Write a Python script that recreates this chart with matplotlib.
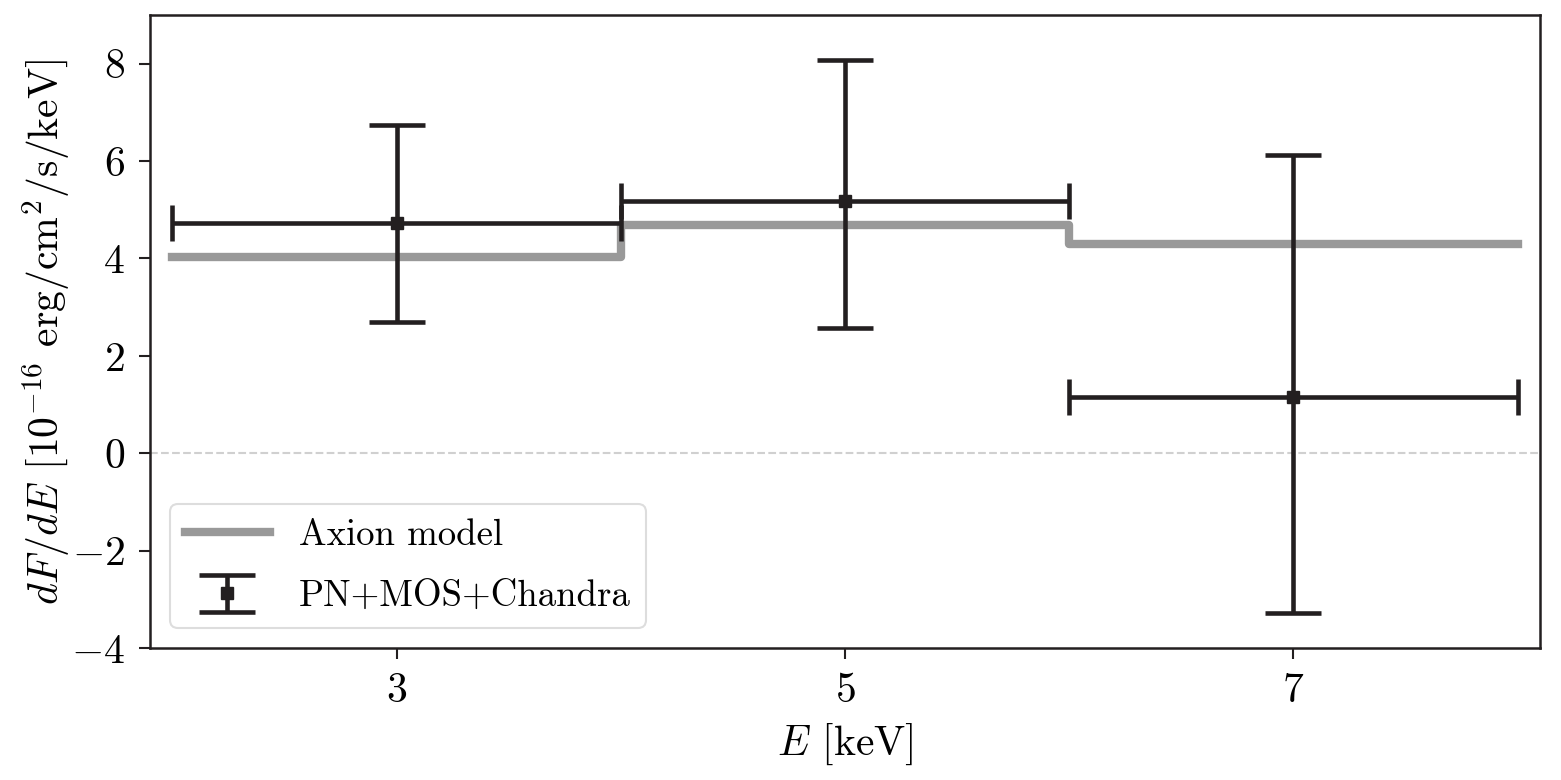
import numpy as np
import matplotlib
matplotlib.use("Agg")
import matplotlib.pyplot as plt

plt.rcParams['font.family'] = 'serif'
plt.rcParams['font.serif'] = ['cmr10']
plt.rcParams['mathtext.fontset'] = 'cm'
plt.rcParams['axes.formatter.use_mathtext'] = True

# binned data
bin_edges = [2, 4, 6, 8]
energy = [3, 5, 7]
energy_halfwidth = [1, 1, 1]
flux = [4.72, 5.19, 1.15]
flux_err_low = [2.02, 2.61, 4.44]
flux_err_high = [2.03, 2.89, 4.98]
model_flux = [4.03, 4.68, 4.29]

BLACK = '#231f20'
GRAY = '#999999'

fig = plt.figure(figsize=(15.61, 7.80), dpi=100)
ax = fig.add_axes([0.0961, 0.1692, 0.8905, 0.8116])

ax.axhline(0, color='#d0d0d0', ls='--', lw=1.5, zorder=0)

ax.step(bin_edges, model_flux + [model_flux[-1]], where='post',
        color=GRAY, lw=6, label='Axion model', zorder=1)

ax.errorbar(energy, flux, xerr=energy_halfwidth, fmt='none',
            ecolor=BLACK, elinewidth=3.3, capsize=13, capthick=3.3, zorder=2)
ax.errorbar(energy, flux, yerr=[flux_err_low, flux_err_high], fmt='s',
            color=BLACK, ms=8, ecolor=BLACK, elinewidth=3.3, capsize=20,
            capthick=3.3, label='PN+MOS+Chandra', zorder=3)

ax.set_xlim(1.9, 8.1)
ax.set_ylim(-4, 9)
ax.set_xticks([3, 5, 7])
ax.set_yticks([-4, -2, 0, 2, 4, 6, 8])
ax.tick_params(labelsize=30, length=8, width=1.5, color=BLACK, pad=10)
for s in ax.spines.values():
    s.set_linewidth(1.8)
    s.set_color(BLACK)

ax.set_xlabel(r'$E$ [keV]', fontsize=30, labelpad=8)
ax.set_ylabel(r'$dF/dE$ [$10^{-16}$ erg/cm$^2$/s/keV]', fontsize=30)
ax.yaxis.set_label_coords(-0.056, 0.5)

leg = ax.legend(loc='lower left', fontsize=26.5, handlelength=2.3, borderaxespad=0.55,
                labelspacing=0.75, fancybox=True, framealpha=1, edgecolor='#dddddd')
leg.get_frame().set_linewidth(1.5)

fig.savefig('out.png', dpi=100)
